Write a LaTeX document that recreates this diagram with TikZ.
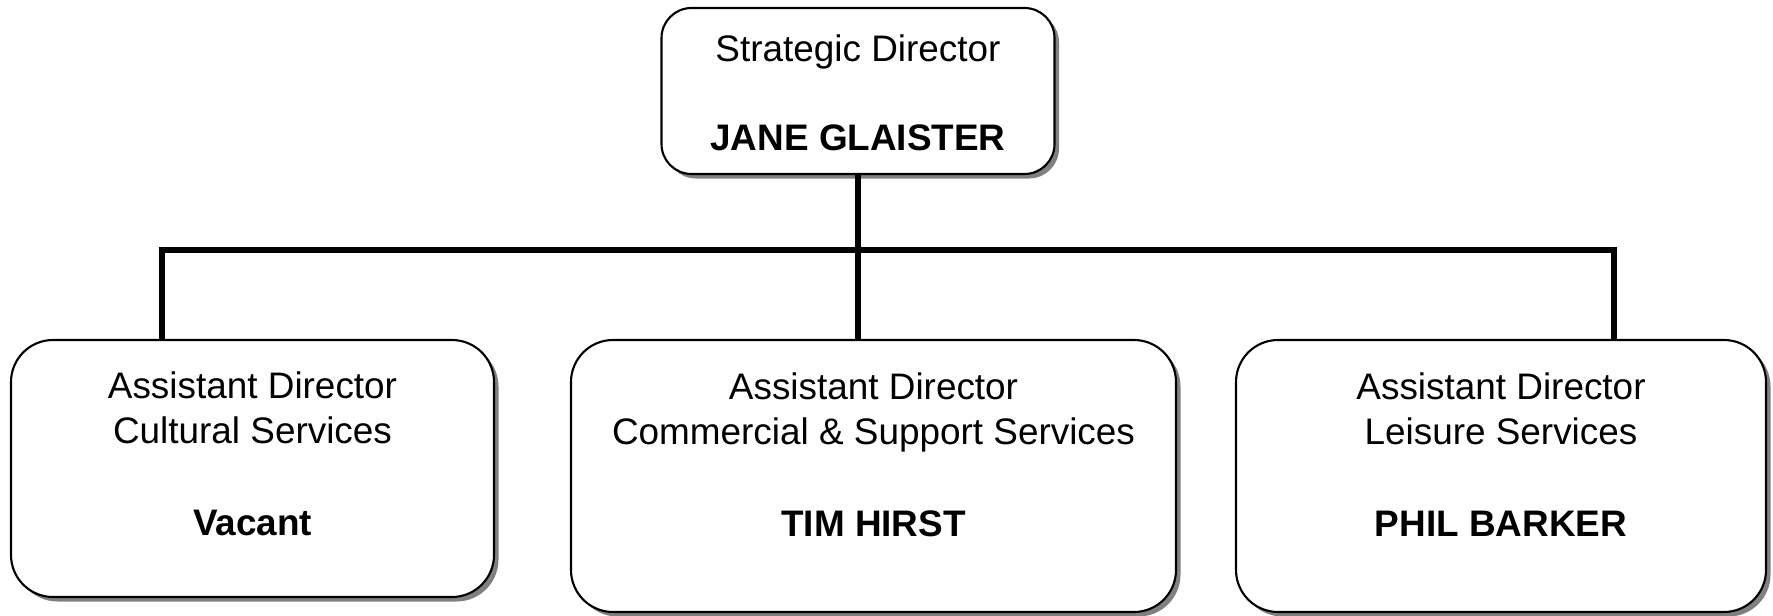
\documentclass[tikz,border=0pt]{standalone}
\usepackage{fontspec}
\setmainfont{Liberation Sans}
\usetikzlibrary{calc,shadows}

\begin{document}
\begin{tikzpicture}[
    post/.style={draw,fill=white,line width=0.6pt,rounded corners=0.42cm,
      drop shadow={shadow xshift=0.045cm,shadow yshift=-0.045cm,fill=black!50,opacity=1},
      align=center,inner sep=0pt,font=\fontsize{10.5}{12.66}\selectfont},
    link/.style={black,line width=1.7pt}]
  \useasboundingbox (0,0) rectangle (17.73,-6.15);
  % director
  \node (head) at (8.58,-0.91)[post,rounded corners=0.3cm,minimum width=3.93cm,minimum height=1.66cm,
    text height=1.28cm,text depth=0.1cm]{Strategic Director\\[0.445cm]\textbf{JANE GLAISTER}};
  % assistant directors
  \node (cult) at (2.525,-4.685)[post,minimum width=4.83cm,minimum height=2.57cm,
    text height=1.44cm,text depth=0.1cm]{Assistant Director\\Cultural Services\\[0.48cm]\textbf{Vacant}};
  \node (comm) at (8.735,-4.76)[post,minimum width=6.05cm,minimum height=2.72cm,
    text height=1.31cm,text depth=0.1cm]{Assistant Director\\Commercial \& Support Services\\[0.48cm]\textbf{TIM HIRST}};
  \node (leis) at (15.01,-4.76)[post,minimum width=5.30cm,minimum height=2.72cm,
    text height=1.31cm,text depth=0.1cm]{Assistant Director\\Leisure Services\\[0.48cm]\textbf{PHIL BARKER}};
  % bus
  \coordinate (busL) at (1.62,-2.50);
  \coordinate (busR) at (16.14,-2.50);
  \draw [link] (busL |- cult.north) -- (busL) -- (busR) -- (busR |- leis.north);
  \draw [link] (head.south) -- (head.south |- comm.north);
\end{tikzpicture}
\end{document}
